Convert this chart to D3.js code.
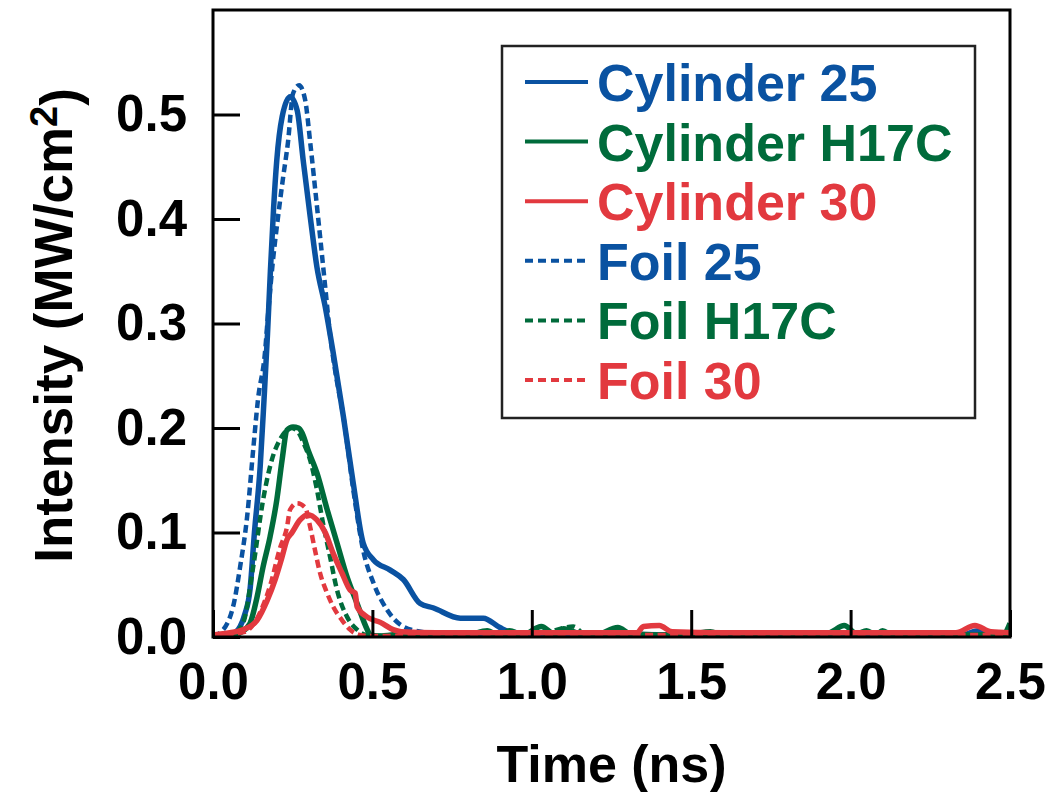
<!DOCTYPE html>
<html>
<head>
<meta charset="utf-8">
<script src="https://cdn.jsdelivr.net/npm/d3@7"></script>
<style>
  body { margin: 0; background: #fff; }
  text { font-family: "Liberation Sans", Arial, Helvetica, sans-serif; font-weight: bold; }
</style>
</head>
<body>
<svg id="chart" width="1052" height="792"></svg>
<script>
// [time (ns), intensity (MW/cm2)]
const cyl25 = [[0,0.001],[0.06,0.003],[0.085,0.01],[0.1,0.022],[0.116,0.045],[0.13,0.1],[0.148,0.163],[0.16,0.227],[0.171,0.29],[0.18,0.35],[0.19,0.41],[0.2,0.456],[0.217,0.498],[0.242,0.517],[0.264,0.504],[0.283,0.456],[0.305,0.402],[0.326,0.354],[0.352,0.316],[0.377,0.272],[0.409,0.211],[0.44,0.147],[0.471,0.09],[0.503,0.074],[0.556,0.064],[0.597,0.055],[0.65,0.032],[0.69,0.028],[0.776,0.018],[0.848,0.018],[0.9,0.009],[0.93,0.005],[1.0,0.003],[1.5,0.002],[2.0,0.002],[2.35,0.002],[2.4,0.006],[2.43,0.002],[2.5,0.002]];
const foil25 = [[0,0.001],[0.022,0.004],[0.063,0.029],[0.085,0.067],[0.107,0.115],[0.126,0.179],[0.141,0.227],[0.163,0.272],[0.173,0.31],[0.188,0.36],[0.204,0.402],[0.22,0.44],[0.235,0.473],[0.251,0.52],[0.27,0.528],[0.289,0.514],[0.305,0.473],[0.32,0.43],[0.336,0.383],[0.352,0.335],[0.367,0.29],[0.383,0.255],[0.409,0.211],[0.44,0.141],[0.471,0.083],[0.503,0.052],[0.546,0.026],[0.597,0.01],[0.672,0.004],[0.75,0.002],[1.0,0.001],[1.5,0.001],[2.0,0.001],[2.5,0.001]];
const cylH17C = [[0,0.0],[0.06,0.001],[0.085,0.004],[0.116,0.013],[0.138,0.038],[0.157,0.067],[0.179,0.096],[0.2,0.131],[0.217,0.17],[0.232,0.198],[0.251,0.201],[0.268,0.2],[0.28,0.195],[0.298,0.179],[0.326,0.157],[0.358,0.122],[0.389,0.09],[0.421,0.057],[0.452,0.032],[0.484,0.007],[0.493,0.002],[0.52,0.001],[0.6,0.003],[0.7,0.001],[0.8,0.002],[0.86,0.006],[0.9,0.001],[0.93,0.006],[0.97,0.002],[1.03,0.01],[1.07,0.003],[1.1,0.008],[1.15,0.003],[1.2,0.002],[1.27,0.009],[1.31,0.003],[1.4,0.002],[1.5,0.003],[1.56,0.005],[1.6,0.002],[1.8,0.003],[1.93,0.004],[1.98,0.011],[2.02,0.003],[2.05,0.006],[2.08,0.002],[2.1,0.006],[2.13,0.002],[2.2,0.003],[2.3,0.002],[2.4,0.002],[2.48,0.003],[2.5,0.013]];
const foilH17C = [[0,0.0],[0.06,0.002],[0.094,0.013],[0.126,0.067],[0.157,0.131],[0.185,0.17],[0.21,0.189],[0.232,0.198],[0.245,0.2],[0.265,0.197],[0.285,0.185],[0.305,0.169],[0.326,0.141],[0.345,0.109],[0.367,0.077],[0.389,0.045],[0.421,0.019],[0.452,0.007],[0.48,0.002],[0.55,0.001],[0.7,0.002],[0.8,0.001],[0.86,0.005],[0.9,-0.003],[0.95,0.004],[1.0,0.001],[1.13,0.01],[1.17,0.002],[1.3,0.002],[1.5,0.002],[1.7,0.003],[1.9,0.002],[2.0,0.004],[2.2,0.002],[2.5,0.002]];
const cyl30 = [[0,0.002],[0.053,0.004],[0.094,0.007],[0.138,0.016],[0.17,0.035],[0.195,0.055],[0.217,0.077],[0.232,0.093],[0.248,0.1],[0.273,0.112],[0.298,0.117],[0.326,0.112],[0.352,0.1],[0.377,0.08],[0.405,0.061],[0.43,0.045],[0.446,0.042],[0.452,0.029],[0.484,0.019],[0.525,0.014],[0.565,0.007],[0.59,0.005],[0.7,0.004],[1.0,0.004],[1.33,0.004],[1.35,0.01],[1.4,0.011],[1.44,0.005],[1.6,0.004],[2.0,0.004],[2.33,0.004],[2.39,0.011],[2.44,0.005],[2.5,0.004]];
const foil30 = [[0,0.001],[0.1,0.005],[0.15,0.025],[0.18,0.05],[0.21,0.085],[0.232,0.105],[0.242,0.122],[0.264,0.128],[0.289,0.124],[0.305,0.105],[0.32,0.083],[0.336,0.061],[0.358,0.042],[0.377,0.029],[0.405,0.016],[0.43,0.007],[0.46,0.002],[0.5,0.001],[1.0,0.002],[1.5,0.002],[2.0,0.002],[2.5,0.002]];

const xTicks = [0, 0.5, 1.0, 1.5, 2.0, 2.5];
const yTicks = [0, 0.1, 0.2, 0.3, 0.4, 0.5];

const blue = "#0a52a1", green = "#006b3b", red = "#e2393f";
const series = [
  { name: "Foil 25", data: foil25, color: blue, dash: true },
  { name: "Cylinder 25", data: cyl25, color: blue, dash: false },
  { name: "Foil H17C", data: foilH17C, color: green, dash: true },
  { name: "Cylinder H17C", data: cylH17C, color: green, dash: false },
  { name: "Foil 30", data: foil30, color: red, dash: true },
  { name: "Cylinder 30", data: cyl30, color: red, dash: false }
];
const legendOrder = ["Cylinder 25", "Cylinder H17C", "Cylinder 30", "Foil 25", "Foil H17C", "Foil 30"];

const plot = { left: 213, right: 1010, top: 10, bottom: 637 };
const svg = d3.select("#chart");

const x = d3.scaleLinear().domain([0, 2.5]).range([plot.left, plot.right]);
const y = d3.scaleLinear().domain([0, 0.6]).range([plot.bottom, plot.top]);

// clip so the curves stay inside the frame
svg.append("clipPath").attr("id", "plotclip")
  .append("rect").attr("x", plot.left).attr("y", plot.top)
  .attr("width", plot.right - plot.left).attr("height", plot.bottom - plot.top);

const line = d3.line().x(d => x(d[0])).y(d => y(d[1])).curve(d3.curveMonotoneX);

svg.append("g").attr("clip-path", "url(#plotclip)")
  .selectAll("path")
  .data(series)
  .join("path")
  .attr("d", d => line(d.data))
  .attr("fill", "none")
  .attr("stroke", d => d.color)
  .attr("stroke-width", d => d.dash ? 4.5 : 5.5)
  .attr("stroke-dasharray", d => d.dash ? "8,4.5" : null)
  .attr("stroke-linejoin", "round");

// axes, ticks point inward
const xAxis = svg.append("g")
  .attr("transform", `translate(0,${plot.bottom})`)
  .call(d3.axisBottom(x).tickValues(xTicks).tickFormat(d3.format(".1f")).tickSizeInner(-27).tickSizeOuter(0).tickPadding(26));
const yAxis = svg.append("g")
  .attr("transform", `translate(${plot.left},0)`)
  .call(d3.axisLeft(y).tickValues(yTicks).tickFormat(d3.format(".1f")).tickSizeInner(-27).tickSizeOuter(0).tickPadding(26));

[xAxis, yAxis].forEach(a => {
  a.select(".domain").remove();
  a.selectAll(".tick line").attr("stroke", "#000").attr("stroke-width", 3);
  a.selectAll(".tick text").attr("fill", "#000").style("font-size", "51px");
});

svg.append("rect")
  .attr("x", plot.left).attr("y", plot.top)
  .attr("width", plot.right - plot.left).attr("height", plot.bottom - plot.top)
  .attr("fill", "none").attr("stroke", "#000").attr("stroke-width", 3);

svg.append("text")
  .attr("x", (plot.left + plot.right) / 2).attr("y", 782)
  .attr("text-anchor", "middle")
  .style("font-size", "52px")
  .text("Time (ns)");

const yTitle = svg.append("text")
  .attr("transform", `translate(72,${(plot.top + plot.bottom) / 2 + 2}) rotate(-90)`)
  .attr("text-anchor", "middle")
  .style("font-size", "53px");
yTitle.append("tspan").text("Intensity (MW/cm");
yTitle.append("tspan").attr("dy", "-0.4em").style("font-size", "38px").text("2");
yTitle.append("tspan").attr("dy", "0.4em").text(")");

// legend
const legend = svg.append("g");
legend.append("rect")
  .attr("x", 502).attr("y", 46).attr("width", 473).attr("height", 372)
  .attr("fill", "#fff").attr("stroke", "#222").attr("stroke-width", 2.5);

const rows = legend.selectAll("g.row")
  .data(legendOrder.map(n => series.find(s => s.name === n)))
  .join("g")
  .attr("class", "row")
  .attr("transform", (d, i) => `translate(0,${82 + i * 59.6})`);
rows.append("line")
  .attr("x1", 525).attr("x2", 588)
  .attr("stroke", d => d.color)
  .attr("stroke-width", 4)
  .attr("stroke-dasharray", d => d.dash ? "8,5" : null);
rows.append("text")
  .attr("x", 597).attr("y", 19)
  .attr("fill", d => d.color)
  .style("font-size", "52px")
  .text(d => d.name);
</script>
</body>
</html>
